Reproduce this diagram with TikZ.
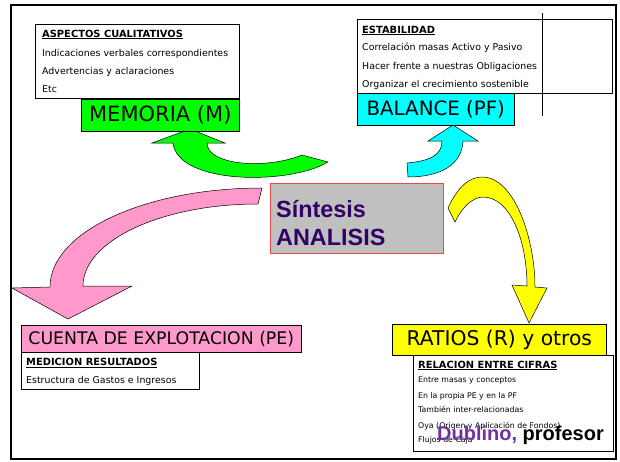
\documentclass[tikz,border=0pt]{standalone}
\usepackage{fontspec}
\setmainfont{DejaVu Sans}
\newfontfamily\arialf{Liberation Sans}
\definecolor{cgreen}{HTML}{00FF00}
\definecolor{ccyan}{HTML}{00FFFF}
\definecolor{cpink}{HTML}{FF99CC}
\definecolor{cyellow}{HTML}{FFFF00}
\definecolor{cgray}{HTML}{C0C0C0}
\definecolor{cred}{HTML}{E84848}
\definecolor{cdpurple}{HTML}{330066}
\definecolor{cpurple}{HTML}{7030A0}
\begin{document}
\begin{tikzpicture}[x=1pt,y=-1pt,
  arrowshape/.style={draw=black, line width=0.5pt, line join=miter},
  bigbox/.style={draw=black, line width=0.6pt, anchor=north west, inner sep=0pt, align=center},
  infobox/.style={draw=black, line width=0.6pt, fill=white, anchor=north west, inner sep=0pt},
  hdr/.style={anchor=base west, inner sep=0pt, font=\fontsize{9.9}{11}\selectfont\bfseries},
  txt/.style={anchor=base west, inner sep=0pt, font=\fontsize{9.4}{11}\selectfont},
  txts/.style={anchor=base west, inner sep=0pt, font=\fontsize{7.8}{9}\selectfont},
  synth/.style={anchor=base west, inner sep=0pt, text=cdpurple, font=\arialf\bfseries\fontsize{23.4}{26}\selectfont}
]
\useasboundingbox (0,0) rectangle (620,461);
\fill[white] (0,0) rectangle (620,461);
% outer frame
\draw[line width=2.2pt] (11,5) rectangle (616,459);

% arrows
\draw[arrowshape, fill=cgreen] (190,129) -- (225,143) -- (207,143)
  .. controls (207,165) and (265,170) .. (302,155) -- (328,162)
  .. controls (290,185) and (178,185) .. (173,143) -- (152,143) -- cycle;
\draw[arrowshape, fill=ccyan] (453,125) -- (478,141) -- (463,141)
  .. controls (462,165) and (440,177) .. (408,177) -- (407,163)
  .. controls (430,161) and (442,155) .. (442,141) -- (428,141) -- cycle;
\draw[arrowshape, fill=cyellow] (448,208) .. controls (458,186) and (470,177) .. (482,177)
  .. controls (515,177) and (535,240) .. (535,287) -- (547,288) -- (529,323) -- (512,285) -- (527,286)
  .. controls (527,240) and (510,197) .. (483,197)
  .. controls (472,197) and (461,209) .. (455,222) -- cycle;
\draw[arrowshape, fill=cpink] (262,188) .. controls (145,188) and (50,232) .. (50,287)
  -- (12,288) -- (68,319) -- (132,286) -- (83,286)
  .. controls (83,241) and (161,204) .. (258,204) -- cycle;

% info boxes
\node[infobox, minimum width=204pt, minimum height=74pt] (aspbox) at (35,24) {};
\node[hdr] (asp0) at (42,37) {\underline{ASPECTOS CUALITATIVOS}};
\node[txt] (asp1) at (42,56) {Indicaciones verbales correspondientes};
\node[txt] (asp2) at (42,74) {Advertencias y aclaraciones};
\node[txt] (asp3) at (42,92) {Etc};

\node[infobox, minimum width=255pt, minimum height=74pt] (estbox) at (357,19) {};
\node[hdr] (est0) at (362,33) {\underline{ESTABILIDAD}};
\node[txt] (est1) at (362,50) {Correlación masas Activo y Pasivo};
\node[txt] (est2) at (362,69) {Hacer frente a nuestras Obligaciones};
\node[txt] (est3) at (362,87) {Organizar el crecimiento sostenible};
\coordinate (vl1) at (542,13);
\coordinate (vl2) at (542,116);
\draw[line width=0.8pt] (vl1) -- (vl2);

\node[infobox, minimum width=178pt, minimum height=37pt] (medbox) at (21,352) {};
\node[hdr] (med0) at (26,365.5) {\underline{MEDICION RESULTADOS}};
\node[txt] (med1) at (26,383) {Estructura de Gastos e Ingresos};

\node[infobox, minimum width=200pt, minimum height=96pt] (relbox) at (413,355) {};
\node[hdr] (rel0) at (418,368) {\underline{RELACION ENTRE CIFRAS}};
\node[txts] (rel1) at (418,382.5) {Entre masas y conceptos};
\node[txts] (rel2) at (418,398) {En la propia PE y en la PF};
\node[txts] (rel3) at (418,412.5) {También inter-relacionadas};
\node[txts] (rel4) at (418,428) {Oya (Origen y Aplicación de Fondos)};
\node[txts] (rel5) at (418,442.5) {Flujos de Caja};

% title boxes
\node[bigbox, fill=cgreen, minimum width=158pt, minimum height=32pt, font=\fontsize{21}{24}\selectfont] (memoria) at (81,99) {MEMORIA (M)};
\node[bigbox, fill=ccyan, minimum width=157pt, minimum height=32pt, font=\fontsize{19.8}{23}\selectfont] (balance) at (357,93) {BALANCE (PF)};
\node[bigbox, fill=cpink, minimum width=280pt, minimum height=27pt, font=\fontsize{17.3}{20}\selectfont] (cuenta) at (21,325) {CUENTA DE EXPLOTACION (PE)};
\node[bigbox, fill=cyellow, minimum width=214pt, minimum height=31pt, font=\fontsize{20.3}{23}\selectfont] (ratios) at (392,324) {RATIOS (R) y otros};

% synthesis box
\node[draw=cred, fill=cgray, line width=0.7pt, anchor=north west, inner sep=0pt, minimum width=173pt, minimum height=70pt] (synbox) at (270,183) {};
\node[synth] (syn1) at (276,217) {Síntesis};
\node[synth] (syn2) at (276,245) {ANALISIS};

% signature
\node[anchor=base west, inner sep=0pt, font=\arialf\bfseries\fontsize{20}{22}\selectfont] (sig) at (437,440) {\textcolor{cpurple}{Dublino,} profesor};
\end{tikzpicture}
\end{document}
